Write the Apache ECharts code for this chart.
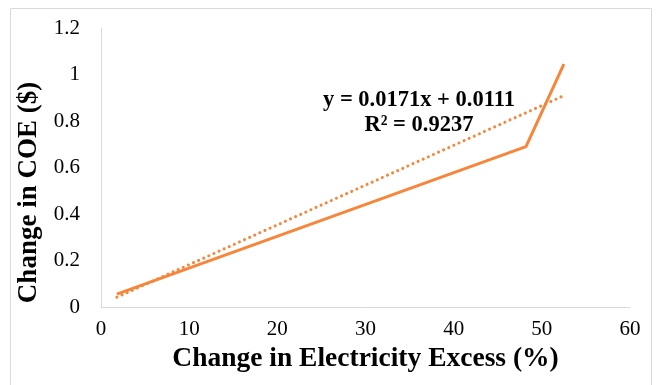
<!DOCTYPE html>
<html>
<head>
<meta charset="utf-8">
<script src="https://cdn.jsdelivr.net/npm/echarts@6/dist/echarts.min.js"></script>
<style>
  html, body { margin: 0; padding: 0; background: #fff; }
  #main { width: 659px; height: 385px; }
</style>
</head>
<body>
<div id="main"></div>
<script>
// values
const excess = [1.8, 48.2, 52.5]
const coe = [0.055, 0.69, 1.045]
// linear trendline end points (Excel dotted trendline)
const trendX = [1.8, 52.5]
const trendY = [0.042, 0.909]
const trendText = 'y = 0.0171x + 0.0111\nR² = 0.9237'

const orange = '#f7863a'
const serif = '"Liberation Serif", "Times New Roman", serif'

const myChart = echarts.init(document.getElementById('main'))
const option = {
  animation: false,
  textStyle: { fontFamily: serif },
  graphic: [
    {
      type: 'rect',
      shape: { x: 10.5, y: 8.5, width: 641, height: 400 },
      style: { fill: 'none', stroke: '#d9d9d9', lineWidth: 1 }
    },
    {
      type: 'text',
      left: 323,
      top: 88,
      style: {
        text: trendText,
        font: 'bold 22.5px ' + serif,
        fill: '#000',
        textAlign: 'center',
        lineHeight: 25
      }
    }
  ],
  grid: { left: 101, right: 29, top: 28, bottom: 78 },
  xAxis: {
    type: 'value',
    min: 0,
    max: 60,
    interval: 10,
    name: 'Change in Electricity Excess (%)',
    nameLocation: 'center',
    nameGap: 36,
    nameTextStyle: { fontFamily: serif, fontSize: 27.5, fontWeight: 'bold', color: '#000' },
    axisLine: { lineStyle: { color: '#d9d9d9', width: 1 } },
    axisTick: { show: false },
    splitLine: { show: false },
    axisLabel: { fontFamily: serif, fontSize: 21, color: '#000', margin: 12 }
  },
  yAxis: {
    type: 'value',
    min: 0,
    max: 1.2,
    interval: 0.2,
    name: 'Change in COE ($)',
    nameLocation: 'center',
    nameGap: 48,
    nameTextStyle: {
      fontFamily: serif,
      fontSize: 27,
      fontWeight: 'bold',
      color: '#000',
      padding: [10, 50, 0, 0]
    },
    axisLine: { show: true, lineStyle: { color: '#d9d9d9', width: 1 } },
    axisTick: { show: false },
    splitLine: { show: false },
    axisLabel: {
      fontFamily: serif,
      fontSize: 21,
      color: '#000',
      margin: 21,
      formatter: v => String(Math.round(v * 10) / 10)
    }
  },
  series: [
    {
      name: 'COE',
      type: 'line',
      data: excess.map((x, i) => [x, coe[i]]),
      symbol: 'none',
      lineStyle: { color: orange, width: 3 },
      z: 3
    },
    {
      name: 'Trend',
      type: 'line',
      data: trendX.map((x, i) => [x, trendY[i]]),
      symbol: 'none',
      lineStyle: { color: orange, width: 3, type: [0.1, 5.5], cap: 'round' },
      z: 2
    }
  ]
}
myChart.setOption(option)
</script>
</body>
</html>
